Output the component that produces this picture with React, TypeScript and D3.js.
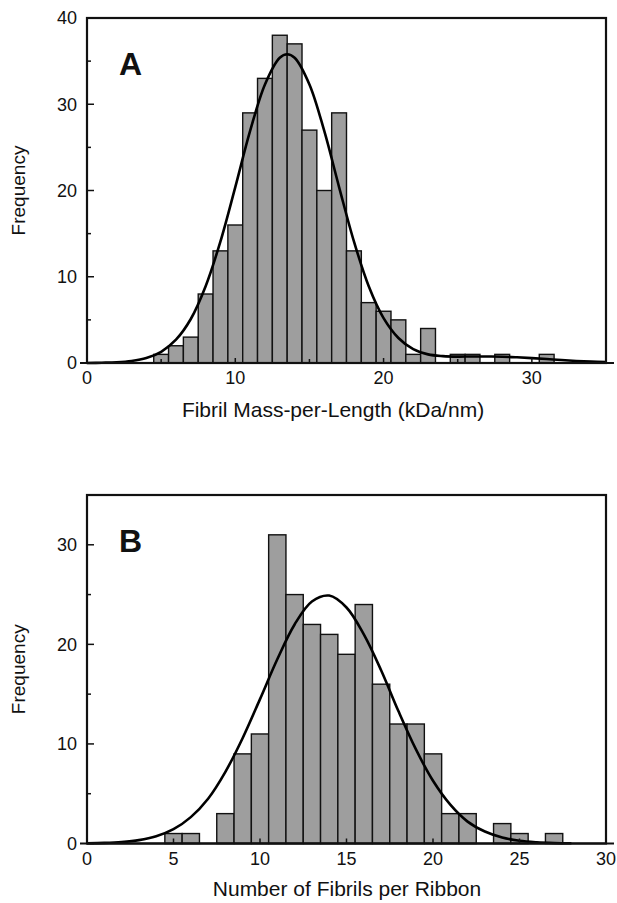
import * as d3 from "d3";

// Panel A: fibril mass-per-length histogram (bin centres, counts)
const massBins = [5, 6, 7, 8, 9, 10, 11, 12, 13, 14, 15, 16, 17, 18, 19, 20, 21, 22, 23, 25, 26, 28, 31];
const massCounts = [1, 2, 3, 8, 13, 16, 29, 33, 38, 37, 27, 20, 29, 13, 7, 6, 5, 1, 4, 1, 1, 1, 1];
// fitted curve
const massFitX = [0, 1, 2, 3, 4, 5, 6, 7, 8, 9, 10, 11, 12, 13, 13.5, 14, 15, 16, 17, 18, 19, 20, 21, 22, 23, 24, 25, 26, 27, 28, 29, 30, 31, 32, 33, 34, 35];
const massFitY = [0, 0.03, 0.08, 0.23, 0.57, 1.3, 2.7, 5.1, 8.9, 14.1, 20.4, 26.9, 32.3, 35.4, 35.8, 35.4, 32.3, 26.9, 20.4, 14.1, 8.9, 5.2, 2.9, 1.6, 1.0, 0.8, 0.74, 0.76, 0.75, 0.73, 0.66, 0.57, 0.46, 0.34, 0.24, 0.16, 0.1];
const massXTicks = [0, 10, 20, 30];
const massXMinor = [5, 15, 25];
const massYTicks = [0, 10, 20, 30, 40];
const massYMinor = [5, 15, 25, 35];

// Panel B: number of fibrils per ribbon
const ribbonBins = [5, 6, 8, 9, 10, 11, 12, 13, 14, 15, 16, 17, 18, 19, 20, 21, 22, 24, 25, 27];
const ribbonCounts = [1, 1, 3, 9, 11, 31, 25, 22, 21, 19, 24, 16, 12, 12, 9, 3, 3, 2, 1, 1];
const ribbonFitX = [0, 1, 2, 3, 4, 5, 6, 7, 8, 9, 10, 11, 12, 13, 14, 15, 16, 17, 18, 19, 20, 21, 22, 23, 24, 25, 26, 27, 28];
const ribbonFitY = [0.02, 0.06, 0.15, 0.34, 0.73, 1.44, 2.65, 4.5, 7.2, 10.6, 14.5, 18.5, 22.0, 24.3, 24.9, 23.7, 21.0, 17.4, 13.3, 9.5, 6.3, 3.9, 2.2, 1.2, 0.6, 0.27, 0.12, 0.05, 0.02];
const ribbonXTicks = [0, 5, 10, 15, 20, 25, 30];
const ribbonYTicks = [0, 10, 20, 30];
const ribbonYMinor = [5, 15, 25];

const font = "'Liberation Sans', Arial, Helvetica, sans-serif";

type PanelProps = {
  letter: string;
  title: string;
  xMax: number;
  yMax: number;
  top: number;
  bottom: number;
  bins: number[];
  counts: number[];
  fitX: number[];
  fitY: number[];
  xTicks: number[];
  xMinor: number[];
  yTicks: number[];
  yMinor: number[];
  titleY: number;
  titleX: number;
};

function Panel(p: PanelProps) {
  const left = 87;
  const right = 606;
  const x = d3.scaleLinear().domain([0, p.xMax]).range([left, right]);
  const y = d3.scaleLinear().domain([0, p.yMax]).range([p.bottom, p.top]);

  const line = d3
    .line<number>()
    .x((d) => x(d))
    .y((_, i) => y(p.fitY[i]))
    .curve(d3.curveCatmullRom.alpha(0.5));

  return (
    <g>
      {p.bins.map((b, i) => (
        <rect
          key={b}
          x={x(b - 0.5)}
          width={x(b + 0.5) - x(b - 0.5)}
          y={y(p.counts[i])}
          height={y(0) - y(p.counts[i])}
          fill="#9e9e9e"
          stroke="#111"
          strokeWidth={1.4}
        />
      ))}
      <path d={line(p.fitX) || ""} fill="none" stroke="#000" strokeWidth={2.6} />

      {/* frame */}
      <rect x={left} y={p.top} width={right - left} height={p.bottom - p.top} fill="none" stroke="#111" strokeWidth={2.2} />
      <line x1={left - 7} x2={right + 8} y1={p.bottom} y2={p.bottom} stroke="#111" strokeWidth={2.2} />

      {/* x ticks */}
      {p.xTicks.map((t) => (
        <g key={"x" + t}>
          <line x1={x(t)} x2={x(t)} y1={p.bottom} y2={p.bottom - 5} stroke="#111" strokeWidth={1.5} />
          <text x={x(t)} y={p.bottom + 21} textAnchor="middle" fontSize={18} fontFamily={font} fill="#111">
            {t}
          </text>
        </g>
      ))}
      {p.xMinor.map((t) => (
        <line key={"xm" + t} x1={x(t)} x2={x(t)} y1={p.bottom} y2={p.bottom - 4} stroke="#111" strokeWidth={1.5} />
      ))}

      {/* y ticks */}
      {p.yTicks.map((t) => (
        <g key={"y" + t}>
          <line x1={left} x2={left + 7} y1={y(t)} y2={y(t)} stroke="#111" strokeWidth={1.5} />
          <text x={77} y={y(t)} dy="0.36em" textAnchor="end" fontSize={18} fontFamily={font} fill="#111">
            {t}
          </text>
        </g>
      ))}
      {p.yMinor.map((t) => (
        <line key={"ym" + t} x1={left} x2={left + 4} y1={y(t)} y2={y(t)} stroke="#111" strokeWidth={1.5} />
      ))}

      <text x={119} y={p.top + 57} fontSize={32} fontWeight="bold" fontFamily={font} fill="#111">
        {p.letter}
      </text>

      <text
        transform={`translate(25,${(p.top + p.bottom) / 2}) rotate(-90)`}
        textAnchor="middle"
        fontSize={19}
        fontFamily={font}
        fill="#111"
      >
        Frequency
      </text>
      <text x={p.titleX} y={p.titleY} textAnchor="middle" fontSize={21} fontFamily={font} fill="#111">
        {p.title}
      </text>
    </g>
  );
}

export default function App() {
  return (
    <svg width={617} height={903} style={{ position: "absolute", left: 0, top: 0, background: "#fff" }}>
      <rect width={617} height={903} fill="#fff" />
      <Panel
        letter="A"
        title="Fibril Mass-per-Length (kDa/nm)"
        xMax={35}
        yMax={40}
        top={18}
        bottom={363}
        bins={massBins}
        counts={massCounts}
        fitX={massFitX}
        fitY={massFitY}
        xTicks={massXTicks}
        xMinor={massXMinor}
        yTicks={massYTicks}
        yMinor={massYMinor}
        titleX={333}
        titleY={417}
      />
      <Panel
        letter="B"
        title="Number of Fibrils per Ribbon"
        xMax={30}
        yMax={35}
        top={495}
        bottom={843.5}
        bins={ribbonBins}
        counts={ribbonCounts}
        fitX={ribbonFitX}
        fitY={ribbonFitY}
        xTicks={ribbonXTicks}
        xMinor={[]}
        yTicks={ribbonYTicks}
        yMinor={ribbonYMinor}
        titleX={347}
        titleY={896}
      />
    </svg>
  );
}
